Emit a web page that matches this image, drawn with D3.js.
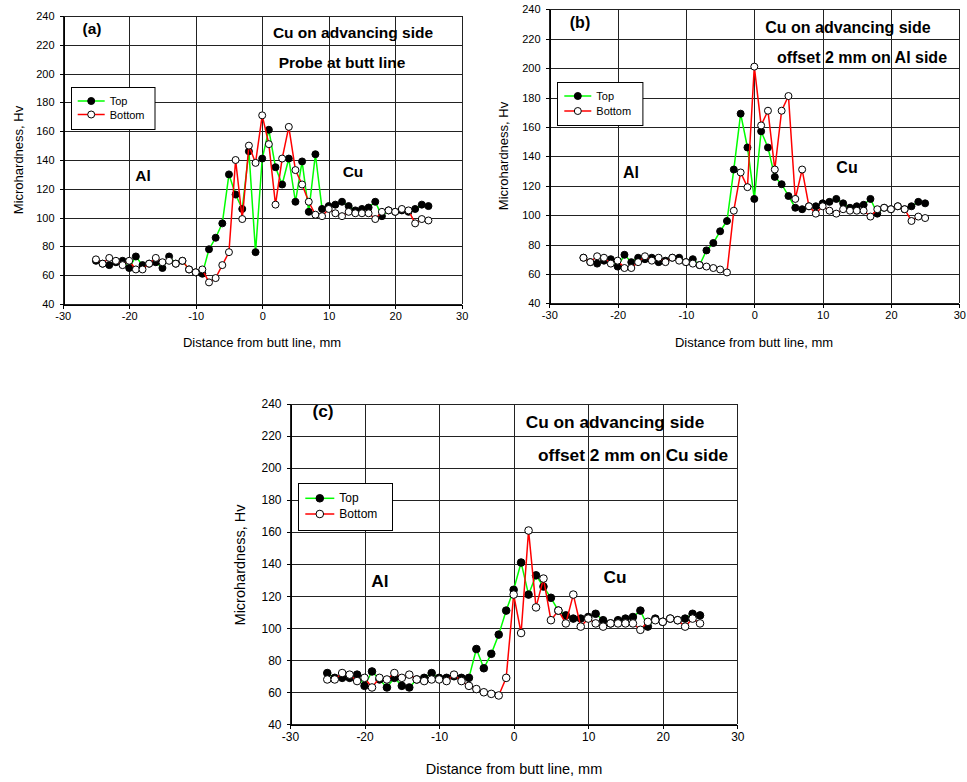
<!DOCTYPE html>
<meta charset="utf-8">
<head>
  <title>Microhardness profiles</title>
</head>

<style>
body {
  margin: 0;
  background: #fff;
  font-family: "Liberation Sans", Arial, Helvetica, sans-serif;
  color: #000;
}
.grid line { stroke: #222; stroke-width: 1; shape-rendering: crispEdges; }
.axis path, .axis line { stroke: #000; shape-rendering: crispEdges; }
.axis text { fill: #000; font-family: "Liberation Sans", Arial, sans-serif; }
.note { font-weight: bold; }
</style>

<body>
  <svg id="chart" width="967" height="782"></svg>

  <script src="https://cdnjs.cloudflare.com/ajax/libs/d3/7.8.5/d3.min.js"></script>

  <script>
  // distance from butt line (mm) - same points for every panel
  var distance = [-25, -24, -23, -22, -21, -20, -19, -18, -17, -16, -15, -14, -13, -12, -11, -10,
    -9, -8, -7, -6, -5, -4, -3, -2, -1, 0, 1, 2, 3, 4, 5, 6, 7, 8, 9, 10, 11, 12, 13, 14, 15, 16,
    17, 18, 19, 20, 21, 22, 23, 24, 25];

  var topA = [70, 68, 67, 69, 70, 65, 73, 67, 68, 69, 65, 73, 68, 70, 64, 62,
    61, 78, 86, 96, 130, 116, 106, 146, 76, 141, 161, 135, 123, 141, 111, 139, 104, 144, 106, 108, 109, 111, 108, 105, 106, 107,
    111, 101, 105, 104, 105, 104, 106, 109, 108];
  var bottomA = [71, 68, 72, 70, 67, 70, 64, 64, 68, 72, 69, 70, 68, 70, 64, 62,
    64, 55, 58, 67, 76, 140, 99, 150, 138, 171, 151, 109, 141, 163, 133, 123, 111, 102, 101, 106, 103, 101, 104, 103, 103, 103,
    99, 104, 105, 104, 106, 105, 96, 99, 98];

  var topB = [71, 68, 67, 69, 70, 65, 73, 68, 71, 70, 71, 68, 69, 71, 71, 68,
    70, 66, 76, 81, 89, 96, 131, 169, 146, 111, 157, 146, 126, 121, 113, 105, 104, 106, 106, 108, 109, 111, 108, 105, 106, 107,
    111, 101, 105, 104, 106, 104, 106, 109, 108];
  var bottomB = [71, 68, 72, 71, 67, 69, 64, 64, 68, 72, 69, 71, 68, 71, 69, 68,
    67, 66, 65, 64, 63, 61, 103, 129, 119, 201, 161, 171, 131, 171, 181, 111, 131, 106, 101, 106, 103, 101, 104, 103, 103, 103,
    99, 104, 105, 104, 106, 104, 96, 99, 98];

  var topC = [72, 69, 69, 69, 71, 64, 73, 68, 63, 69, 64, 63, 68, 69, 72, 69,
    69, 70, 69, 69, 87, 75, 84, 96, 111, 124, 141, 121, 133, 126, 119, 111, 108, 106, 106, 107, 109, 105, 103, 105, 106, 107,
    111, 101, 106, 104, 106, 105, 106, 109, 108];
  var bottomC = [68, 68, 72, 71, 67, 69, 63, 69, 68, 72, 69, 71, 68, 67, 68, 68,
    67, 71, 67, 64, 62, 60, 59, 58, 69, 121, 97, 161, 113, 131, 105, 111, 103, 121, 101, 106, 103, 101, 103, 103, 103, 103,
    99, 104, 105, 104, 106, 105, 101, 106, 103];

  var xTicks = [-30, -20, -10, 0, 10, 20, 30];
  var yTicks = [40, 60, 80, 100, 120, 140, 160, 180, 200, 220, 240];
  var seriesNames = ["Top", "Bottom"];
  var labelA = ["(a)", "Cu on advancing side", "Probe at butt line"];
  var labelB = ["(b)", "Cu on advancing side", "offset 2 mm on Al side"];
  var labelC = ["(c)", "Cu on advancing side", "offset 2 mm on Cu side"];

  var svg = d3.select("#chart");

  var panels = [
    { top: topA, bottom: bottomA, labels: labelA,
      box: [62.7, 461.7, 16, 304], tick: 11, title: 13, note: 15.5, legFont: 11, r: 3.5,
      notes: [[92, 28], [353, 32], [342, 62]],
      al: [143, 175], cu: [353, 171],
      legend: [70.7, 87, 83.5, 42, 101, 114.5],
      ytitle: [18, 160], xtitle: [262, 342] },
    { top: topB, bottom: bottomB, labels: labelB,
      box: [549.3, 959.3, 9.3, 303.3], tick: 11, title: 13, note: 16, legFont: 11, r: 3.5,
      notes: [[580, 22], [848, 27], [862, 57]],
      al: [631, 172], cu: [847, 167],
      legend: [557.3, 82, 85.4, 43, 96, 111],
      ytitle: [503, 156], xtitle: [754, 342] },
    { top: topC, bottom: bottomC, labels: labelC,
      box: [290, 737.3, 404, 724.3], tick: 12, title: 14.5, note: 17.3, legFont: 12, r: 3.8,
      notes: [[323, 411], [615, 422], [633, 455]],
      al: [380, 581], cu: [615, 577],
      legend: [298.3, 483, 94, 47, 498.3, 514],
      ytitle: [240, 565], xtitle: [514, 769] }
  ];

  panels.forEach(function(p) {
    var x = d3.scaleLinear().domain([-30, 30]).range([p.box[0], p.box[1]]);
    var y = d3.scaleLinear().domain([40, 240]).range([p.box[3], p.box[2]]);
    var g = svg.append("g");

    // grid
    var grid = g.append("g").attr("class", "grid");
    grid.selectAll(".gx").data(xTicks).enter().append("line")
      .attr("x1", function(d) { return Math.round(x(d)) + 0.5; })
      .attr("x2", function(d) { return Math.round(x(d)) + 0.5; })
      .attr("y1", y(40)).attr("y2", y(240));
    grid.selectAll(".gy").data(yTicks).enter().append("line")
      .attr("y1", function(d) { return Math.round(y(d)) + 0.5; })
      .attr("y2", function(d) { return Math.round(y(d)) + 0.5; })
      .attr("x1", x(-30)).attr("x2", x(30));

    // axes (plain hyphen minus like the original)
    var fmt = function(d) { return String(d); };
    var ax = g.append("g").attr("class", "axis")
      .attr("transform", "translate(0," + (Math.round(y(40)) + 0.5) + ")")
      .call(d3.axisBottom(x).tickValues(xTicks).tickFormat(fmt).tickSize(4).tickPadding(4).tickSizeOuter(0));
    ax.selectAll("text").style("font-size", p.tick + "px");
    var ay = g.append("g").attr("class", "axis")
      .attr("transform", "translate(" + (Math.round(x(-30)) + 0.5) + ",0)")
      .call(d3.axisLeft(y).tickValues(yTicks).tickFormat(fmt).tickSize(4).tickPadding(5).tickSizeOuter(0));
    ay.selectAll("text").style("font-size", p.tick + "px");

    g.append("text")
      .attr("transform", "translate(" + p.ytitle[0] + "," + p.ytitle[1] + ") rotate(-90)")
      .attr("text-anchor", "middle").attr("dominant-baseline", "central")
      .style("font-size", p.title + "px")
      .text("Microhardness, Hv");
    g.append("text")
      .attr("x", p.xtitle[0]).attr("y", p.xtitle[1])
      .attr("text-anchor", "middle").attr("dominant-baseline", "central")
      .style("font-size", p.title + "px")
      .text("Distance from butt line, mm");

    // series
    var line = d3.line().x(function(d) { return x(d[0]); }).y(function(d) { return y(d[1]); });
    var sets = [
      { vals: p.top, color: "#00ff00", fill: "#000" },
      { vals: p.bottom, color: "#ff0000", fill: "#fff" }
    ];
    sets.forEach(function(s) {
      var pts = distance.map(function(d, i) { return [d, s.vals[i]]; });
      g.append("path").datum(pts)
        .attr("d", line)
        .attr("fill", "none")
        .attr("stroke", s.color)
        .attr("stroke-width", 1.5);
      g.selectAll(null).data(pts).enter().append("circle")
        .attr("cx", function(d) { return x(d[0]); })
        .attr("cy", function(d) { return y(d[1]); })
        .attr("r", p.r)
        .attr("fill", s.fill)
        .attr("stroke", "#000")
        .attr("stroke-width", 1);
    });

    // annotations
    p.labels.forEach(function(t, i) {
      g.append("text").attr("class", "note")
        .attr("x", p.notes[i][0]).attr("y", p.notes[i][1])
        .attr("text-anchor", "middle").attr("dominant-baseline", "central")
        .style("font-size", p.note + "px")
        .text(t);
    });
    g.append("text").attr("class", "note")
      .attr("x", p.al[0]).attr("y", p.al[1])
      .attr("text-anchor", "middle").attr("dominant-baseline", "central")
      .style("font-size", p.note + "px").text("Al");
    g.append("text").attr("class", "note")
      .attr("x", p.cu[0]).attr("y", p.cu[1])
      .attr("text-anchor", "middle").attr("dominant-baseline", "central")
      .style("font-size", p.note + "px").text("Cu");

    // legend
    var L = p.legend;
    var leg = g.append("g");
    leg.append("rect")
      .attr("x", Math.round(L[0]) + 0.5).attr("y", Math.round(L[1]) + 0.5)
      .attr("width", L[2]).attr("height", L[3])
      .attr("fill", "#fff").attr("stroke", "#000").attr("stroke-width", 1);
    sets.forEach(function(s, i) {
      var ly = L[4 + i];
      var lx = L[0] + 7;
      var lw = p.legFont === 12 ? 29 : 27;
      leg.append("line")
        .attr("x1", lx).attr("x2", lx + lw).attr("y1", ly).attr("y2", ly)
        .attr("stroke", s.color).attr("stroke-width", 1.5);
      leg.append("circle")
        .attr("cx", lx + lw / 2).attr("cy", ly).attr("r", p.r)
        .attr("fill", s.fill).attr("stroke", "#000");
      leg.append("text")
        .attr("x", lx + lw + 5).attr("y", ly)
        .attr("dominant-baseline", "central")
        .style("font-size", p.legFont + "px")
        .text(seriesNames[i]);
    });
  });
  </script>
</body>
</html>
